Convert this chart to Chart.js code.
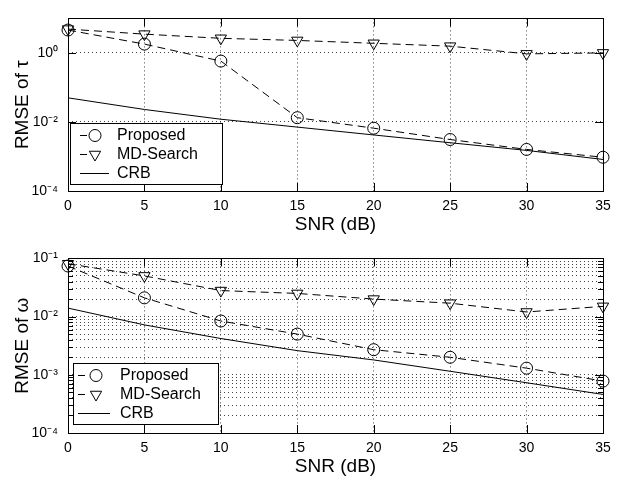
<!DOCTYPE html>
<html>
<head>
<meta charset="utf-8">
<script src="https://cdn.jsdelivr.net/npm/chart.js@4.4.1/dist/chart.umd.min.js"></script>
<style>
  html, body { margin: 0; padding: 0; background: #fff; }
  canvas { position: absolute; left: 0; }
</style>
</head>
<body>
<canvas id="tau" width="619" height="240" style="top:0"></canvas>
<canvas id="omega" width="619" height="239" style="top:240px"></canvas>
<script>
// SNR points (dB)
const snr = [0, 5, 10, 15, 20, 25, 30, 35];

// RMSE of tau
const tauProposed = [4.6, 1.8, 0.58, 0.0133, 0.0066, 0.0031, 0.0016, 0.00095];
const tauMDSearch = [4.9, 3.5, 2.65, 2.3, 1.9, 1.57, 0.94, 1.0];
const tauCRB = [0.050, 0.023, 0.012, 0.0071, 0.0042, 0.0025, 0.0015, 0.00082];

// RMSE of omega
const omegaProposed = [0.074, 0.021, 0.0084, 0.0050, 0.0027, 0.0020, 0.0013, 0.00078];
const omegaMDSearch = [0.081, 0.050, 0.028, 0.025, 0.020, 0.017, 0.012, 0.015];
const omegaCRB = [0.014, 0.0072, 0.0042, 0.0026, 0.0018, 0.00115, 0.00073, 0.00046];

// axis ticks
const snrTicks = [0, 5, 10, 15, 20, 25, 30, 35];
const tauTicks = [1e-4, 1e-2, 1, 10];
const tauTickLabels = ['10⁻⁴', '10⁻²', '10⁰', ''];
const omegaDecades = [1e-4, 1e-3, 1e-2, 1e-1];
const omegaDecadeLabels = ['10⁻⁴', '10⁻³', '10⁻²', '10⁻¹'];

const FONT = '"Liberation Sans", Arial, Helvetica, sans-serif';
Chart.defaults.font.family = FONT;
Chart.defaults.color = '#000';

const isDecade = (v, decades) => decades.findIndex(d => Math.abs(v / d - 1) < 1e-6);

// minor ticks 2..9 inside every decade of the omega plot
const omegaTicks = [];
omegaDecades.forEach((d, i) => {
  omegaTicks.push(d);
  if (i < omegaDecades.length - 1) {
    for (let k = 2; k <= 9; k++) omegaTicks.push(d * k);
  }
});

function marker(ctx, style, r, x, y) {
  ctx.beginPath();
  if (style === 'circle') {
    ctx.arc(x, y, r, 0, Math.PI * 2);
  } else {
    // downward triangle
    let a = Math.PI;
    ctx.moveTo(x + Math.sin(a) * r, y - Math.cos(a) * r);
    a += 2 * Math.PI / 3;
    ctx.lineTo(x + Math.sin(a) * r, y - Math.cos(a) * r);
    a += 2 * Math.PI / 3;
    ctx.lineTo(x + Math.sin(a) * r, y - Math.cos(a) * r);
    ctx.closePath();
  }
  ctx.stroke();
}

// box around the plot with inward ticks on all four sides
const framePlugin = {
  id: 'frame',
  afterDatasetsDraw(chart, args, opts) {
    const { ctx, chartArea: a, scales: { x, y } } = chart;
    ctx.save();
    ctx.strokeStyle = '#000';
    ctx.lineWidth = 1;
    ctx.setLineDash([]);
    ctx.beginPath();
    x.ticks.forEach(t => {
      const px = Math.round(x.getPixelForValue(t.value)) + 0.5;
      ctx.moveTo(px, a.bottom); ctx.lineTo(px, a.bottom - 8);
      ctx.moveTo(px, a.top); ctx.lineTo(px, a.top + 8);
    });
    y.ticks.forEach(t => {
      const py = Math.round(y.getPixelForValue(t.value)) + 0.5;
      const len = isDecade(t.value, opts.decades) >= 0 ? 8 : 5;
      ctx.moveTo(a.left, py); ctx.lineTo(a.left + len, py);
      ctx.moveTo(a.right, py); ctx.lineTo(a.right - len, py);
    });
    ctx.stroke();
    ctx.strokeRect(Math.round(a.left) + 0.5, Math.round(a.top) + 0.5,
      Math.round(a.right - a.left), Math.round(a.bottom - a.top));
    ctx.restore();
  }
};

// legend box in the lower left corner of the plot
const boxLegendPlugin = {
  id: 'boxLegend',
  afterDraw(chart, args, o) {
    const ctx = chart.ctx;
    ctx.save();
    ctx.fillStyle = '#fff';
    ctx.fillRect(o.x0, o.y0, o.x1 - o.x0, o.y1 - o.y0);
    ctx.strokeStyle = '#000';
    ctx.lineWidth = 1;
    ctx.strokeRect(o.x0 + 0.5, o.y0 + 0.5, o.x1 - o.x0, o.y1 - o.y0);
    ctx.font = '16px ' + FONT;
    ctx.fillStyle = '#000';
    ctx.textBaseline = 'middle';
    chart.data.datasets.forEach((ds, i) => {
      const y = o.rowY[i] + 0.5;
      ctx.beginPath();
      if (ds.pointRadius > 0) {
        ctx.moveTo(o.lineX0, y); ctx.lineTo(o.lineX0 + 7, y);
        ctx.stroke();
        marker(ctx, ds.pointStyle, ds.pointRadius, o.markerX, y);
      } else {
        ctx.moveTo(o.lineX0, y); ctx.lineTo(o.lineX1, y);
        ctx.stroke();
      }
      ctx.fillText(ds.label, o.textX, o.rowY[i] + 1);
    });
    ctx.restore();
  }
};

function makeChart(id, cfg) {
  const pts = vals => snr.map((s, i) => ({ x: s, y: vals[i] }));
  return new Chart(document.getElementById(id), {
    type: 'line',
    data: {
      datasets: [
        {
          label: 'Proposed',
          data: pts(cfg.proposed),
          borderColor: '#000', borderWidth: 1, borderDash: [8, 5],
          pointStyle: 'circle', pointRadius: 6, pointBorderWidth: 1,
          pointBorderColor: '#000', pointBackgroundColor: 'rgba(0,0,0,0)',
          tension: 0, clip: false,
        },
        {
          label: 'MD-Search',
          data: pts(cfg.mdSearch),
          borderColor: '#000', borderWidth: 1, borderDash: [8, 5],
          pointStyle: 'triangle', pointRotation: 180, pointRadius: 6.5, pointBorderWidth: 1,
          pointBorderColor: '#000', pointBackgroundColor: 'rgba(0,0,0,0)',
          tension: 0, clip: false,
        },
        {
          label: 'CRB',
          data: pts(cfg.crb),
          borderColor: '#000', borderWidth: 1,
          pointRadius: 0, tension: 0, clip: false,
        },
      ],
    },
    options: {
      responsive: false,
      animation: false,
      events: [],
      layout: { padding: { left: 0, right: 16, top: cfg.padTop, bottom: 0 } },
      plugins: {
        legend: { display: false },
        tooltip: { enabled: false },
        frame: { decades: cfg.decades },
        boxLegend: cfg.legend,
      },
      scales: {
        x: {
          type: 'linear',
          min: 0,
          max: 35,
          afterBuildTicks: s => { s.ticks = snrTicks.map(v => ({ value: v })); },
          afterFit: s => { s.height = cfg.xHeight; },
          grid: { color: '#444', lineWidth: 1, drawTicks: false },
          border: { display: false, dash: [1, 3] },
          ticks: { font: { size: 14 }, padding: 7, maxRotation: 0, autoSkip: false },
          title: {
            display: true, text: 'SNR (dB)', font: { size: 19 },
            padding: { top: 0, bottom: cfg.titlePadBottom },
          },
        },
        y: {
          type: 'logarithmic',
          min: 1e-4,
          max: cfg.yMax,
          afterBuildTicks: s => { s.ticks = cfg.yTicks.map(v => ({ value: v })); },
          afterFit: s => { s.width = 68; },
          grid: { color: '#444', lineWidth: 1, drawTicks: false },
          border: { display: false, dash: [1, 3] },
          ticks: {
            font: { size: 14 }, padding: 10, autoSkip: false,
            callback: v => {
              const i = isDecade(v, cfg.decades);
              return i >= 0 ? cfg.decadeLabels[i] : '';
            },
          },
          title: {
            display: true, text: cfg.yTitle, font: { size: 19 },
            padding: { top: 11, bottom: 0 },
          },
        },
      },
    },
    plugins: [framePlugin, boxLegendPlugin],
  });
}

makeChart('tau', {
  proposed: tauProposed, mdSearch: tauMDSearch, crb: tauCRB,
  yMax: 10, yTicks: tauTicks, decades: tauTicks, decadeLabels: tauTickLabels,
  yTitle: 'RMSE of τ', padTop: 13, xHeight: 49, titlePadBottom: 4,
  legend: { x0: 70, y0: 123, x1: 222, y1: 184, rowY: [135, 154, 173], lineX0: 80, lineX1: 109, markerX: 95, textX: 117 },
});

makeChart('omega', {
  proposed: omegaProposed, mdSearch: omegaMDSearch, crb: omegaCRB,
  yMax: 1e-1, yTicks: omegaTicks, decades: omegaDecades, decadeLabels: omegaDecadeLabels,
  yTitle: 'RMSE of ω', padTop: 16, xHeight: 46, titlePadBottom: 1,
  legend: { x0: 73, y0: 123, x1: 218, y1: 184, rowY: [135, 154, 173], lineX0: 78, lineX1: 110, markerX: 96, textX: 120 },
});
</script>
</body>
</html>
